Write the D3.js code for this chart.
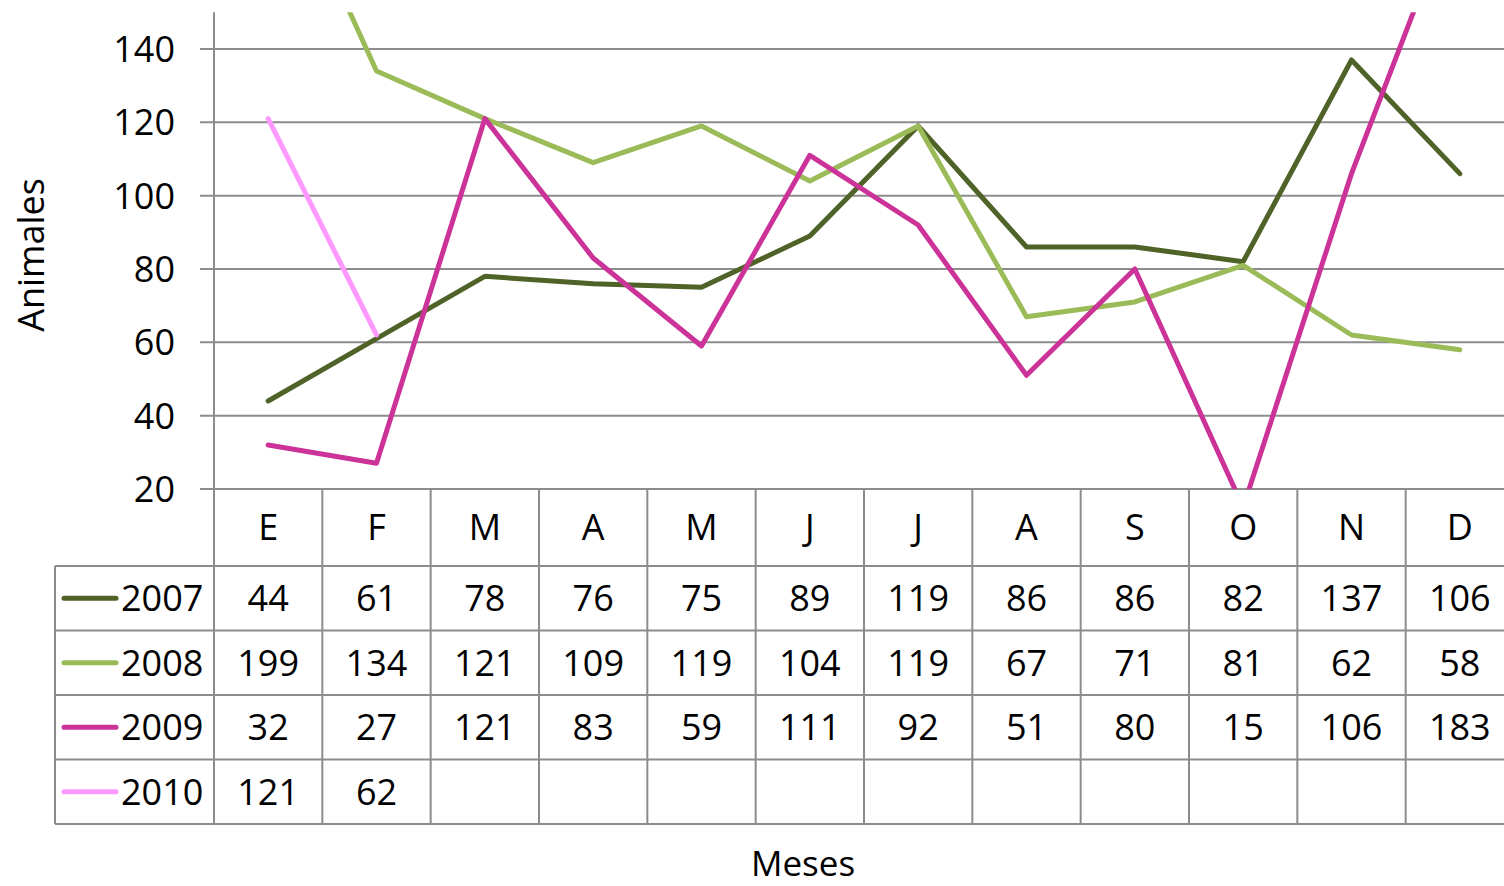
<!DOCTYPE html>
<html><head><meta charset="utf-8">
<script src="https://cdn.jsdelivr.net/npm/d3@7"></script>
<style>
html,body{margin:0;padding:0;background:#fff;overflow:hidden}
text{font-family:"Open Sans",sans-serif;fill:#000}
</style></head>
<body>
<svg id="c" width="1504" height="886"></svg>
<script>
const months = ["E","F","M","A","M","J","J","A","S","O","N","D"];
const seriesNames = ["2007","2008","2009","2010"];
const s2007 = [44,61,78,76,75,89,119,86,86,82,137,106];
const s2008 = [199,134,121,109,119,104,119,67,71,81,62,58];
const s2009 = [32,27,121,83,59,111,92,51,80,15,106,183];
const s2010 = [121,62,null,null,null,null,null,null,null,null,null,null];
const seriesColors = ["#4F6228","#9BBB59","#CC3399","#FF99FF"];
const yTicks = [20,40,60,80,100,120,140];
const yTitle = "Animales";
const xTitle = "Meses";

(function(){
const seriesValues = [s2007,s2008,s2009,s2010];
const svg = d3.select("#c");
const pLeft = 214, pRight = 1514, pTop = 12.3, pBottom = 489;
const tableLeft = 55, headerBottom = 566, tableBottom = 824;

const idx = months.map((m,i)=>i);
const x = d3.scaleBand().domain(idx).range([pLeft,pRight]);
const y = d3.scaleLinear().domain([20,150]).range([pBottom,pTop]);
const row = d3.scaleBand().domain(seriesNames).range([headerBottom,tableBottom]);
const grid = "#8c8c8c";

svg.append("g").selectAll("line").data(yTicks).join("line")
  .attr("x1",200).attr("x2",pRight).attr("y1",d=>y(d)).attr("y2",d=>y(d))
  .attr("stroke",grid).attr("stroke-width",2);
svg.append("g").selectAll("text").data(yTicks).join("text")
  .attr("x",175).attr("y",d=>y(d)).attr("dy","0.36em").attr("text-anchor","end")
  .attr("font-size",36).text(d=>d);

svg.append("defs").append("clipPath").attr("id","pc").append("rect")
  .attr("x",pLeft).attr("y",pTop).attr("width",pRight-pLeft).attr("height",pBottom-pTop);

const line = d3.line().defined(d=>d.v!=null).x(d=>x(d.i)+x.bandwidth()/2).y(d=>y(d.v));
svg.append("g").attr("clip-path","url(#pc)").selectAll("path").data(seriesValues).join("path")
  .attr("d",vals=>line(vals.map((v,i)=>({i,v}))))
  .attr("fill","none").attr("stroke",(d,i)=>seriesColors[i]).attr("stroke-width",5)
  .attr("stroke-linejoin","round").attr("stroke-linecap","round");

const tg = svg.append("g");
tg.append("line").attr("x1",pLeft).attr("x2",pLeft).attr("y1",pTop).attr("y2",tableBottom)
  .attr("stroke",grid).attr("stroke-width",2);
tg.selectAll("line.col").data(idx.slice(1)).join("line").attr("class","col")
  .attr("x1",d=>x(d)).attr("x2",d=>x(d))
  .attr("y1",pBottom).attr("y2",tableBottom).attr("stroke",grid).attr("stroke-width",2);
tg.selectAll("line.row").data(seriesNames.map(s=>row(s)).concat([tableBottom])).join("line").attr("class","row")
  .attr("x1",tableLeft).attr("x2",pRight).attr("y1",d=>d).attr("y2",d=>d)
  .attr("stroke",grid).attr("stroke-width",2);
tg.append("line").attr("x1",tableLeft).attr("x2",tableLeft).attr("y1",headerBottom).attr("y2",tableBottom)
  .attr("stroke",grid).attr("stroke-width",2);
tg.selectAll("text.h").data(idx).join("text").attr("class","h")
  .attr("x",d=>x(d)+x.bandwidth()/2).attr("y",(pBottom+headerBottom)/2).attr("dy","0.36em")
  .attr("text-anchor","middle").attr("font-size",36).text(d=>months[d]);
seriesNames.forEach((s,si)=>{
  const cy = row(s)+row.bandwidth()/2;
  tg.append("line").attr("x1",64).attr("x2",116).attr("y1",cy).attr("y2",cy)
    .attr("stroke",seriesColors[si]).attr("stroke-width",5).attr("stroke-linecap","round");
  tg.append("text").attr("x",121).attr("y",cy).attr("dy","0.36em").attr("font-size",36).text(s);
  tg.selectAll(null).data(seriesValues[si].map((v,i)=>({v,i})).filter(d=>d.v!=null)).join("text")
    .attr("x",d=>x(d.i)+x.bandwidth()/2).attr("y",cy).attr("dy","0.36em")
    .attr("text-anchor","middle").attr("font-size",36).text(d=>d.v);
});

svg.append("text").attr("transform","translate(44,255) rotate(-90)").attr("text-anchor","middle")
  .attr("font-size",36).text(yTitle);
svg.append("text").attr("x",803).attr("y",876).attr("text-anchor","middle")
  .attr("font-size",35).text(xTitle);
})();
</script>
</body></html>
